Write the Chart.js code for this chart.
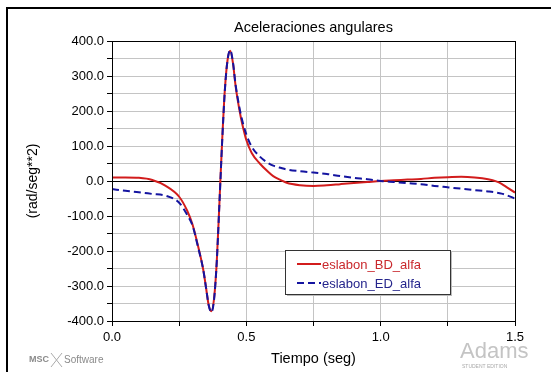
<!DOCTYPE html>
<html><head><meta charset="utf-8">
<script src="https://cdn.jsdelivr.net/npm/chart.js@4/dist/chart.umd.min.js"></script>
<style>html,body{margin:0;padding:0;background:#fff;overflow:hidden}</style>
</head><body>
<canvas id="c" width="551" height="372" style="display:block;width:551px;height:372px"></canvas>
<script>
// ---- data ----
const tiempo = [0, 0.05, 0.1, 0.15, 0.2, 0.25, 0.28, 0.3, 0.32, 0.34, 0.35, 0.36, 0.37, 0.38, 0.39, 0.4, 0.41, 0.42, 0.43, 0.44, 0.45, 0.46, 0.47, 0.48, 0.49, 0.5, 0.52, 0.55, 0.58, 0.6, 0.63, 0.65, 0.7, 0.75, 0.8, 0.85, 0.9, 0.95, 1.0, 1.05, 1.1, 1.15, 1.2, 1.25, 1.3, 1.35, 1.4, 1.43, 1.45, 1.47, 1.5];
const eslabonBD = [10, 10, 9, 3, -14, -45, -85, -125, -185, -255, -305, -355, -372, -335, -230, -60, 115, 260, 345, 372, 338, 272, 222, 180, 146, 117, 80, 50, 27, 14, 2, -5, -12, -14, -12, -9, -6, -3, 0, 2, 4, 6, 9, 11, 12, 10, 5, -1, -8, -18, -33];
const eslabonED = [-23, -28, -32, -37, -42, -62, -97, -128, -188, -255, -305, -355, -375, -338, -230, -62, 112, 258, 345, 374, 340, 275, 228, 188, 158, 133, 98, 70, 52, 44, 37, 33, 28, 24, 20, 14, 9, 5, 0, -3, -6, -9, -14, -18, -22, -26, -30, -33, -36, -41, -50];
const seriesNames = ['eslabon_BD_alfa', 'eslabon_ED_alfa'];
const xTickLabels = ['0.0', '0.5', '1.0', '1.5'];
const yTickLabels = ['-400.0', '-300.0', '-200.0', '-100.0', '0.0', '100.0', '200.0', '300.0', '400.0'];
const chartTitle = 'Aceleraciones angulares';
const xTitle = 'Tiempo (seg)';
const yTitle = '(rad/seg**2)';

// ---- styles ----
const RED = '#d21c1c', BLUE = '#1414a0';
const RED_TXT = '#c9282c', BLUE_TXT = '#25258c';
const FONT = '"Liberation Sans", Arial, sans-serif';

function lookupLabel(list, v) {
  for (const s of list) if (Math.abs(parseFloat(s) - v) < 1e-9) return s;
  return '';
}

const decor = {
  id: 'decor',
  afterDatasetsDraw(chart) {
    const ctx = chart.ctx, a = chart.chartArea;
    ctx.save();
    // plot border
    ctx.strokeStyle = '#000'; ctx.lineWidth = 1;
    ctx.strokeRect(Math.round(a.left) + 0.5, Math.round(a.top) + 0.5, Math.round(a.right - a.left), Math.round(a.bottom - a.top));
    // title, centred over the plot area
    ctx.fillStyle = '#000'; ctx.font = '14.5px ' + FONT; ctx.textAlign = 'center'; ctx.textBaseline = 'middle';
    ctx.fillText(chartTitle, (a.left + a.right) / 2, 28);
    // legend
    const lx = 285, ly = 250, lw = 165, lh = 44;
    ctx.fillStyle = '#bbb';
    ctx.fillRect(lx + 2, ly + 2, lw, lh);
    ctx.fillStyle = '#fff';
    ctx.fillRect(lx, ly, lw, lh);
    ctx.strokeStyle = '#333'; ctx.lineWidth = 1;
    ctx.strokeRect(lx + 0.5, ly + 0.5, lw, lh);
    const rows = [[264, RED, RED_TXT, []], [283, BLUE, BLUE_TXT, [7, 4]]];
    ctx.font = '13px ' + FONT; ctx.textBaseline = 'middle'; ctx.textAlign = 'left';
    rows.forEach((r, i) => {
      ctx.strokeStyle = r[1]; ctx.lineWidth = 2; ctx.setLineDash(r[3]);
      ctx.beginPath(); ctx.moveTo(297, r[0]); ctx.lineTo(321, r[0]); ctx.stroke();
      ctx.setLineDash([]);
      ctx.fillStyle = r[2];
      ctx.fillText(seriesNames[i], 322, r[0] + 1);
    });
    ctx.restore();
  },
  afterDraw(chart) {
    const ctx = chart.ctx;
    ctx.save();
    // outer frame
    ctx.strokeStyle = '#000'; ctx.lineWidth = 2;
    ctx.beginPath(); ctx.moveTo(7, 372); ctx.lineTo(7, 8); ctx.lineTo(551, 8); ctx.stroke();
    // logos
    ctx.fillStyle = '#8a8a8a'; ctx.font = 'bold 9px ' + FONT; ctx.textBaseline = 'middle';
    ctx.fillText('MSC', 29, 360);
    ctx.font = '10px ' + FONT;
    ctx.fillText('Software', 64, 360);
    ctx.strokeStyle = '#aaa'; ctx.lineWidth = 1;
    ctx.beginPath(); ctx.moveTo(51, 353); ctx.lineTo(62, 367); ctx.moveTo(62, 353); ctx.lineTo(51, 367); ctx.stroke();
    ctx.fillStyle = '#c4c4c4'; ctx.font = '22px ' + FONT;
    ctx.fillText('Adams', 460, 352);
    ctx.font = '5px ' + FONT; ctx.fillStyle = '#aaa';
    ctx.fillText('STUDENT EDITION', 462, 367);
    ctx.restore();
  }
};

new Chart(document.getElementById('c'), {
  type: 'line',
  data: {
    datasets: [
      { label: seriesNames[0], data: tiempo.map((t, i) => ({ x: t, y: eslabonBD[i] })), borderColor: RED, borderWidth: 2, pointRadius: 0, cubicInterpolationMode: 'monotone', fill: false, order: 2 },
      { label: seriesNames[1], data: tiempo.map((t, i) => ({ x: t, y: eslabonED[i] })), borderColor: BLUE, borderWidth: 2, borderDash: [7, 4], pointRadius: 0, cubicInterpolationMode: 'monotone', fill: false, order: 1 }
    ]
  },
  options: {
    responsive: false, animation: false, devicePixelRatio: 1,
    layout: { padding: { left: 0, right: 36, top: 41, bottom: 0 } },
    plugins: {
      legend: { display: false }, tooltip: { enabled: false }, title: { display: false }
    },
    scales: {
      x: {
        type: 'linear', min: 0, max: 1.5,
        afterFit(s) { s.height = 51; },
        ticks: { stepSize: 0.25, autoSkip: false, maxRotation: 0, color: '#000', font: { family: FONT, size: 13 }, padding: 4, callback: v => lookupLabel(xTickLabels, v) },
        grid: { color: '#c4c4c4', tickColor: '#000', tickLength: 5, lineWidth: 1 },
        border: { color: '#000', width: 1 },
        title: { display: true, text: xTitle, color: '#000', font: { family: FONT, size: 14.5, lineHeight: 1.2 }, padding: { top: 0, bottom: 4 } }
      },
      y: {
        type: 'linear', min: -400, max: 400,
        afterFit(s) { s.width = 112; },
        ticks: { stepSize: 50, autoSkip: false, color: '#000', font: { family: FONT, size: 13 }, padding: 3, callback: v => lookupLabel(yTickLabels, v) },
        grid: { color: c => (c.tick && c.tick.value === 0) ? '#000' : '#c4c4c4', tickColor: '#000', tickLength: 5, lineWidth: 1 },
        border: { color: '#000', width: 1 },
        title: { display: true, text: yTitle, color: '#000', font: { family: FONT, size: 14, lineHeight: 1.2 }, padding: { top: 25, bottom: 0 } }
      }
    }
  },
  plugins: [decor]
});
</script>
</body></html>
